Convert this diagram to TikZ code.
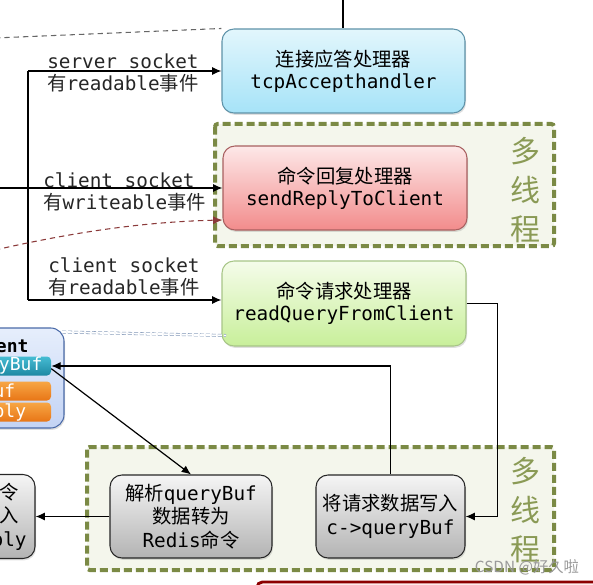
\documentclass[tikz,border=0pt]{standalone}
\usepackage{fontspec}
\setmainfont{DejaVu Sans Mono}
\newfontfamily\cjkfont{Noto Sans CJK SC}
\usetikzlibrary{arrows.meta,shadows}
\newcommand{\zh}[1]{{\cjkfont #1}}
\definecolor{grpc}{HTML}{7B8A45}
\definecolor{grpf}{HTML}{F4F6EC}
\definecolor{mtc}{HTML}{8A9A55}
\definecolor{accT}{HTML}{E2F6FC}
\definecolor{accB}{HTML}{A6E3F8}
\definecolor{accD}{HTML}{5E92A8}
\definecolor{repT}{HTML}{FDE8E8}
\definecolor{repB}{HTML}{F28C8C}
\definecolor{repD}{HTML}{A86060}
\definecolor{rdqT}{HTML}{F5FCEA}
\definecolor{rdqB}{HTML}{C8EF9A}
\definecolor{rdqD}{HTML}{A7C587}
\definecolor{gryT}{HTML}{F5F5F5}
\definecolor{gryB}{HTML}{B3B3B3}
\definecolor{cliT}{HTML}{E6EEFC}
\definecolor{cliB}{HTML}{C3D3F4}
\definecolor{cliD}{HTML}{4A6AA8}
\definecolor{cyT}{HTML}{45BCD3}
\definecolor{cyB}{HTML}{1E88A3}
\definecolor{orT}{HTML}{F7A645}
\definecolor{orB}{HTML}{E87616}
\definecolor{dred}{HTML}{8B3A3A}
\definecolor{bdash}{HTML}{7F95B5}
\tikzset{
  box/.style={rounded corners=9pt, line width=0.8pt, align=center, inner sep=0pt,
    font=\fontsize{14.5}{16.5}\selectfont, text=black,
    drop shadow={shadow xshift=0.8pt, shadow yshift=-1.4pt, opacity=0.25}},
  accbox/.style={box, draw=accD, top color=accT, bottom color=accB},
  repbox/.style={box, draw=repD, top color=repT, bottom color=repB},
  rdqbox/.style={box, draw=rdqD, top color=rdqT, bottom color=rdqB},
  grybox/.style={box, draw=black!85, top color=gryT, bottom color=gryB,
    font=\fontsize{14.5}{17.6}\selectfont},
  grp/.style={draw=grpc, line width=3pt, dash pattern=on 6pt off 3pt, fill=grpf, rounded corners=2pt},
  mt/.style={text=mtc, align=center, inner sep=0pt, font=\cjkfont\fontsize{22.5}{29.5}\selectfont},
  lbl/.style={align=left, inner sep=0pt, anchor=west, text=black!85,
    font=\fontsize{14.5}{16.5}\selectfont},
  conn/.style={line width=0.9pt, black},
  arr/.style={conn, -{Latex[length=7pt,width=6pt]}},
  tag/.style={rounded corners=3pt, minimum width=78pt, minimum height=14.25pt, inner sep=0pt,
    text=white, font=\fontsize{13.5}{14}\selectfont},
}
\begin{document}
\begin{tikzpicture}[x=0.75pt,y=-0.75pt]
\useasboundingbox (0,0) rectangle (593,585);
\clip (0,0) rectangle (593,585);

% groups
\draw[grp] (215,124) rectangle (554,246);
\draw[grp] (87,447) rectangle (554,570);
\node[mt] (mt1) at (525,190) {多\\线\\程};
\node[mt] (mt2) at (525,510) {多\\线\\程};

% bottom red box (partly visible)
\draw[draw=red!55!black, line width=2.2pt, fill=red!8, rounded corners=4pt] (257,582) rectangle (640,660);

% boxes
\node[accbox, minimum width=182.25pt, minimum height=63pt] (acc) at (343.5,71)
  {\zh{连接应答处理器}\\tcpAccepthandler};
\node[repbox, minimum width=183pt, minimum height=63pt] (rep) at (345,188)
  {\zh{命令回复处理器}\\sendReplyToClient};
\node[rdqbox, minimum width=183pt, minimum height=63.75pt] (rdq) at (344,303.5)
  {\zh{命令请求处理器}\\readQueryFromClient};
\node[grybox, minimum width=121.5pt, minimum height=62.25pt] (parse) at (191,516.5)
  {\zh{解析}queryBuf\\\zh{数据转为}\\Redis\zh{命令}};
\node[grybox, minimum width=111.75pt, minimum height=62.25pt] (write) at (390.5,516.5)
  {\zh{将请求数据写入}\\c->queryBuf};
\node[grybox, minimum width=82.5pt, minimum height=63pt] (lb) at (-20,516.5)
  {\zh{执行命令}\\\zh{结果写入}\\c->reply};

% client box
\node[rounded corners=10pt, draw=cliD, line width=0.8pt, top color=cliT, bottom color=cliB,
  minimum width=108pt, minimum height=75pt, inner sep=0pt,
  drop shadow={shadow xshift=0.8pt, shadow yshift=-1.4pt, opacity=0.25}] (cli) at (-8,378) {};
\node[inner sep=0pt, font=\bfseries\fontsize{13.5}{14}\selectfont] (clit) at (-4,345) {client};
\node[tag, top color=cyT, bottom color=cyB] (qb) at (-1,366) {queryBuf};
\node[tag, top color=orT, bottom color=orB] (buf) at (-1,391) {buf};
\node[tag, top color=orT, bottom color=orB] (rpl) at (-1,412) {reply};

% labels
\node[lbl] (l1) at (47,73) {server socket\\\zh{有}readable\zh{事件}};
\node[lbl] (l2) at (43,191.5) {client socket\\\zh{有}writeable\zh{事件}};
\node[lbl] (l3) at (48,277) {client socket\\\zh{有}readable\zh{事件}};

% connectors
\coordinate (ttop) at (343,-5);
\draw[conn] (ttop) -- (acc.north -| ttop);
\coordinate (d0) at (-5,38);
\draw[black!60, line width=0.8pt, dash pattern=on 4pt off 3pt] (d0) -- (acc.north west);
\coordinate (vt) at (28,71);
\coordinate (vb) at (28,300);
\draw[conn] (vt) -- (vb);
\draw[arr] (vt) -- (acc.west);
\draw[arr] (vb) -- (rdq.west |- vb);
\coordinate (wl) at (-5,188);
\draw[arr] (wl) -- (rep.west);
\coordinate (r0) at (-5,250);
\draw[dred, line width=0.8pt, dash pattern=on 4pt off 3pt, -{Latex[length=7pt,width=6pt]}]
  (r0) .. controls (70,233) and (140,222) .. ([yshift=-24pt]rep.west);
\coordinate (b0) at (62,332);
\coordinate (b1) at (226,335.5);
\draw[bdash, line width=0.4pt, double=white, double distance=1.4pt, dash pattern=on 3pt off 1.5pt] (b0) -- (b1);
\draw[arr] (rdq.east) -- ++(31,0) |- (write.east);
\draw[arr] (write.north) |- (qb.east);
\draw[arr] ([yshift=-2pt]qb.east) -- (parse.north);
\draw[arr] (parse.west) -- (lb.east);

% watermark
\node[inner sep=0pt, text=black!40, font=\cjkfont\fontsize{11.5}{13}\selectfont] (wm) at (527,567) {CSDN @好久啦};
\end{tikzpicture}
\end{document}
